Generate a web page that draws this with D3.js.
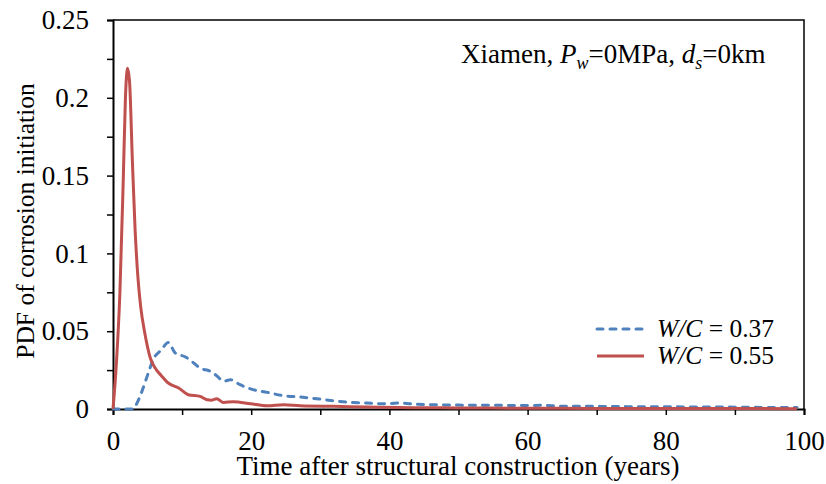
<!doctype html>
<html lang="en">
<head>
<meta charset="utf-8">
<title>PDF of corrosion initiation</title>
<script src="https://d3js.org/d3.v7.min.js"></script>
<style>
  body { margin: 0; background: #fff; }
  svg text { font-family: "Liberation Serif", "Times New Roman", serif; fill: #000; }
  .axis path, .axis line { stroke: #000; }
</style>
</head>
<body>
<svg width="826" height="484"></svg>
<script>
// W/C = 0.37 (dashed blue)
var blueT = [0, 1, 2, 2.9, 3.5, 4.1, 5.1, 5.8, 7.0, 8.0, 9.0, 10.5, 11.4, 12.6, 14.1, 15.0, 16.0, 17.0, 18.4, 19.9,
  22.3, 24.7, 27.1, 29.5, 31.9, 34.3, 36.7, 39.1, 41.5, 44, 46, 50, 55, 60, 62, 65, 70, 75, 80, 85, 90, 95, 99];
var blueV = [0, 0, 0, 0, 0.004, 0.0103, 0.023, 0.0317, 0.038, 0.0428, 0.036, 0.0334, 0.0306, 0.0263, 0.0242, 0.0214, 0.0178, 0.0188, 0.0156, 0.0129,
  0.0107, 0.0085, 0.0077, 0.0066, 0.0053, 0.0042, 0.0038, 0.0034, 0.0038, 0.003, 0.0028, 0.0025, 0.0024, 0.0022, 0.0024, 0.0018, 0.0017, 0.0015, 0.0014, 0.0013, 0.0012, 0.001, 0.0009];

// W/C = 0.55 (solid red)
var redT = [0, 0.5, 1, 1.5, 1.8, 2.1, 2.4, 2.8, 3.2, 3.6, 4.0, 4.6, 5.4, 6.1, 7.0, 8.0, 9.5, 10.9, 12.6, 13.6, 14.3, 15,
  16, 17.4, 19.9, 22.3, 24.7, 27.1, 31.9, 36.7, 41.5, 45, 50, 60, 70, 80, 90, 99];
var redV = [0, 0.03, 0.075, 0.15, 0.2, 0.219, 0.21, 0.16, 0.115, 0.085, 0.066, 0.0488, 0.0328, 0.0263, 0.0214, 0.0167, 0.0135, 0.0092, 0.0081, 0.006, 0.0057, 0.0066,
  0.0042, 0.0047, 0.0034, 0.0021, 0.0028, 0.0021, 0.0017, 0.0013, 0.0009, 0.0008, 0.0007, 0.0005, 0.0004, 0.0003, 0.0003, 0.0002];

var xTicks = d3.range(0, 101, 10);
var yTicks = d3.range(0, 11).map(function (i) { return i * 0.025; });

var svg = d3.select("svg"),
  margin = { top: 20, right: 22, bottom: 75, left: 113 },
  width = +svg.attr("width") - margin.left - margin.right,
  height = +svg.attr("height") - margin.top - margin.bottom;

var x = d3.scaleLinear().domain([0, 100]).range([margin.left, margin.left + width]);
var y = d3.scaleLinear().domain([0, 0.25]).range([margin.top + height, margin.top]);

// frame (top + right)
svg.append("path")
  .attr("d", "M" + x(0) + "," + y(0.25) + "H" + x(100) + "V" + y(0))
  .attr("fill", "none").attr("stroke", "#000").attr("stroke-width", 1.5);

svg.append("g").attr("class", "axis")
  .attr("transform", "translate(0," + y(0) + ")")
  .call(d3.axisBottom(x).tickValues(xTicks).tickSize(6).tickPadding(16)
    .tickFormat(function (d) { return d % 20 === 0 ? d : ""; }));

svg.append("g").attr("class", "axis")
  .attr("transform", "translate(" + x(0) + ",0)")
  .call(d3.axisLeft(y).tickValues(yTicks).tickSize(6).tickPadding(18)
    .tickFormat(function (d) {
      var k = Math.round(d * 1000);
      return k % 50 === 0 ? d3.format("~g")(k / 1000) : "";
    }));

svg.selectAll(".axis text").style("font-size", "27px").style("font-family", "'Liberation Serif', serif");
svg.selectAll(".axis path").attr("stroke-width", 2);
svg.selectAll(".axis line").attr("stroke-width", 1.5);

var line = d3.line()
  .x(function (d) { return x(d[0]); })
  .y(function (d) { return y(d[1]); })
  .curve(d3.curveMonotoneX);

var blue = blueT.map(function (t, i) { return [t, blueV[i]]; });
var red = redT.map(function (t, i) { return [t, redV[i]]; });

svg.append("path").datum(blue)
  .attr("d", line).attr("fill", "none")
  .attr("stroke", "#4F81BD").attr("stroke-width", 3)
  .attr("stroke-dasharray", "6,7").attr("stroke-linecap", "round");

svg.append("path").datum(red)
  .attr("d", line).attr("fill", "none")
  .attr("stroke", "#C0504D").attr("stroke-width", 3)
  .attr("stroke-linejoin", "round");

// axis titles
svg.append("text")
  .attr("x", 458).attr("y", 475)
  .attr("text-anchor", "middle").style("font-size", "27px")
  .text("Time after structural construction (years)");

svg.append("text")
  .attr("transform", "translate(34,221) rotate(-90)")
  .attr("text-anchor", "middle").style("font-size", "25.5px")
  .text("PDF of corrosion initiation");

// annotation
var note = svg.append("text").attr("x", 461).attr("y", 63).style("font-size", "27px");
note.append("tspan").text("Xiamen, ");
note.append("tspan").style("font-style", "italic").text("P");
note.append("tspan").style("font-style", "italic").style("font-size", "18px").attr("dy", 6).text("w");
note.append("tspan").attr("dy", -6).text("=0MPa, ");
note.append("tspan").style("font-style", "italic").text("d");
note.append("tspan").style("font-style", "italic").style("font-size", "18px").attr("dy", 6).text("s");
note.append("tspan").attr("dy", -6).text("=0km");

// legend
var legend = [
  { name: "0.37", color: "#4F81BD", dash: "6,7", y: 329 },
  { name: "0.55", color: "#C0504D", dash: null, y: 356 }
];
legend.forEach(function (d) {
  svg.append("line")
    .attr("x1", 597).attr("x2", 644).attr("y1", d.y).attr("y2", d.y)
    .attr("stroke", d.color).attr("stroke-width", 3)
    .attr("stroke-dasharray", d.dash).attr("stroke-linecap", d.dash ? "round" : "butt");
  var t = svg.append("text").attr("x", 657).attr("y", d.y + 8).style("font-size", "25.5px");
  t.append("tspan").style("font-style", "italic").text("W/C");
  t.append("tspan").text(" = " + d.name);
});
</script>
</body>
</html>
